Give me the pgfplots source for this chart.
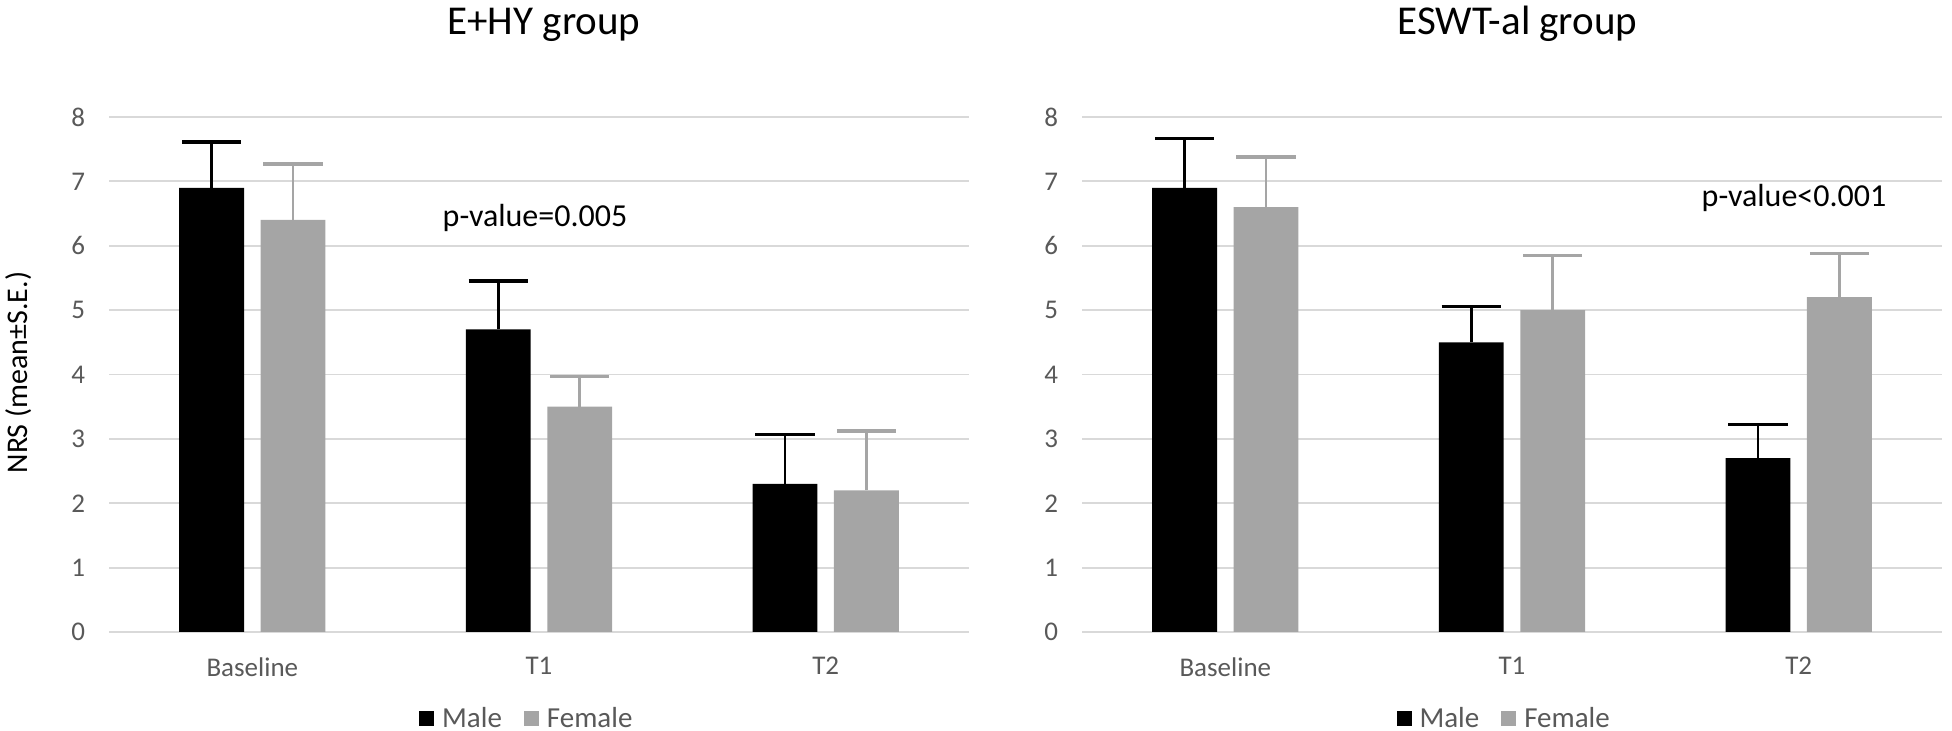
\documentclass[border=0pt]{standalone}
\usepackage{pgfplots}
\pgfplotsset{compat=1.18}
\usepackage{pgfplotstable}
\usepackage{fontspec}
\setmainfont{Carlito}
\definecolor{fem}{HTML}{A5A5A5}
\definecolor{gridc}{HTML}{D9D9D9}
\definecolor{tickc}{HTML}{595959}

\pgfplotstableread{
x y e
0 6.90 0.71
1 4.70 0.75
2 2.30 0.77
}\leftmale
\pgfplotstableread{
x y e
0 6.40 0.87
1 3.50 0.47
2 2.20 0.92
}\leftfemale
\pgfplotstableread{
x y e
0 6.90 0.77
1 4.50 0.56
2 2.70 0.52
}\rightmale
\pgfplotstableread{
x y e
0 6.60 0.78
1 5.00 0.85
2 5.20 0.68
}\rightfemale

\pgfplotsset{
 panel/.style={
  scale only axis, width=430pt, height=257.5pt, anchor=south west,
  ybar=8.3pt, bar width=32.4pt,
  xmin=-0.5, xmax=2.5, ymin=0, ymax=8,
  xtick={0,1,2}, xticklabels={Baseline,T1,T2},
  ytick={0,1,2,3,4,5,6,7,8},
  ymajorgrids, grid style={draw=gridc, line width=0.9pt},
  axis line style={draw=none},
  major tick length=0pt,
  tick label style={font=\fontsize{13.5}{16}\selectfont, text=tickc},
  /pgf/number format/assume math mode=true,
  xticklabel style={yshift=-9.2pt},
  yticklabel style={xshift=-8.5pt},
  clip=false,
  legend image code/.code={\fill[##1] (0pt,-3.75pt) rectangle (7.5pt,3.75pt); \path (9.5pt,0pt);},
  legend style={draw=none, fill=none, legend columns=-1,
    font=\fontsize{14.5}{17}\selectfont, text=tickc,
    /tikz/every even column/.append style={column sep=9pt}, anchor=center},
 },
 male/.style={fill=black, draw=none,
   error bars/.cd, y dir=plus, y explicit,
   error bar style={line width=1.4pt, draw=black},
   error mark options={rotate=90, line width=1.7pt, mark size=14.8pt, draw=black}},
 female/.style={fill=fem, draw=none,
   error bars/.cd, y dir=plus, y explicit,
   error bar style={line width=1.4pt, draw=fem},
   error mark options={rotate=90, line width=1.7pt, mark size=14.8pt, draw=fem}},
}

\begin{document}
\begin{tikzpicture}
\useasboundingbox (0,0) rectangle (976pt,365.5pt);
\begin{axis}[panel, at={(54.5pt,49.5pt)},
  legend style={at={(0.487,-0.168)}}]
\addplot[male] table[x=x, y=y, y error=e] {\leftmale};
\addlegendentry{Male}
\addplot[female] table[x=x, y=y, y error=e] {\leftfemale};
\addlegendentry{Female}
\end{axis}
\begin{axis}[panel, at={(541pt,49.5pt)},
  legend style={at={(0.492,-0.168)}}]
\addplot[male] table[x=x, y=y, y error=e] {\rightmale};
\addlegendentry{Male}
\addplot[female] table[x=x, y=y, y error=e] {\rightfemale};
\addlegendentry{Female}
\end{axis}
\node[anchor=base, font=\fontsize{20.5}{24}\selectfont] at (272pt,348pt) {E+HY group};
\node[anchor=base, font=\fontsize{20.5}{24}\selectfont] at (758.7pt,348pt) {ESWT-al group};
\node[rotate=90, anchor=center, font=\fontsize{15}{18}\selectfont] at (9.2pt,179.2pt) {NRS (mean±S.E.)};
\node[anchor=base, font=\fontsize{16}{19}\selectfont] at (267.5pt,252.1pt) {p-value=0.005};
\node[anchor=base, font=\fontsize{16}{19}\selectfont] at (897pt,262pt) {p-value<0.001};
\end{tikzpicture}
\end{document}
